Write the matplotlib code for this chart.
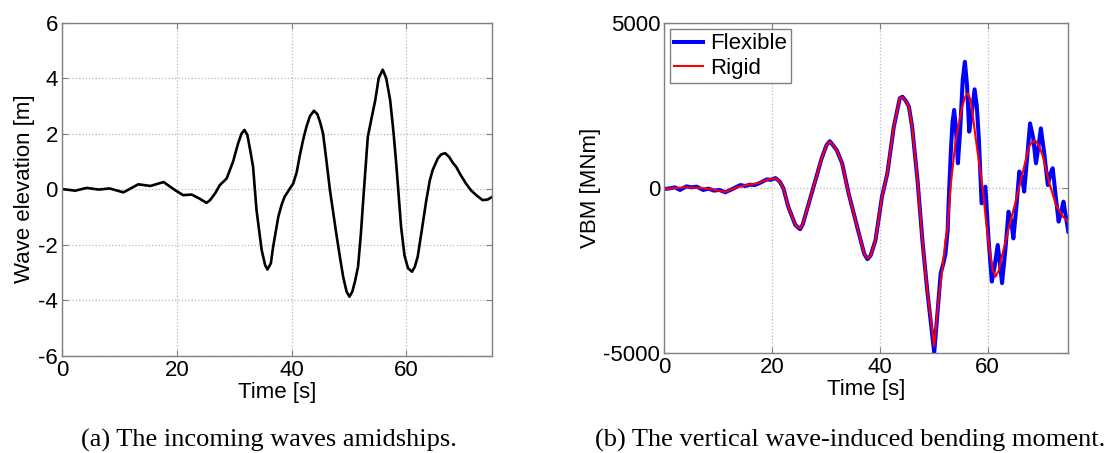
import matplotlib
matplotlib.use("Agg")
from matplotlib import pyplot as plt

# wave elevation amidships [m]
wave_t = [0, 2.3, 4.3, 6.4, 8.3, 10.7, 13.3, 15.4, 17.7, 19.7, 21.1, 22.6, 24.0, 25.2,
          25.8, 26.7, 27.5, 28.7, 29.8, 30.7, 31.3, 31.8, 32.3, 32.8, 33.3, 33.9, 34.8,
          35.4, 35.8, 36.4, 36.8, 37.7, 38.3, 38.8, 39.5, 40.3, 40.9, 41.4, 42.0, 42.6,
          43.2, 43.9, 44.5, 45.0, 45.5, 46.1, 46.7, 47.8, 48.4, 49.0, 49.6, 50.1, 50.6,
          51.1, 51.6, 52.1, 52.5, 53.3, 54.0, 54.6, 55.2, 55.9, 56.5, 57.2, 57.8, 58.3,
          59.1, 59.7, 60.3, 61.0, 61.5, 62.0, 62.7, 63.5, 64.1, 64.6, 65.5, 66.1, 66.8,
          67.5, 68.1, 68.7, 69.5, 70.4, 71.3, 72.2, 73.3, 74.2, 75.0]
wave_eta = [0, -0.06, 0.04, -0.02, 0.02, -0.12, 0.17, 0.11, 0.25, -0.04, -0.22, -0.2,
            -0.35, -0.5, -0.4, -0.15, 0.14, 0.38, 0.98, 1.65, 2.0, 2.13, 1.95, 1.4, 0.8,
            -0.76, -2.2, -2.74, -2.9, -2.68, -2.08, -1.0, -0.55, -0.28, -0.05, 0.2, 0.6,
            1.16, 1.75, 2.24, 2.62, 2.82, 2.7, 2.4, 2.0, 1.0, -0.04, -1.6, -2.4, -3.16,
            -3.7, -3.88, -3.7, -3.3, -2.8, -1.6, -0.4, 1.88, 2.6, 3.2, 4.0, 4.3, 4.0, 3.2,
            2.0, 0.8, -1.36, -2.4, -2.85, -2.98, -2.8, -2.44, -1.5, -0.4, 0.3, 0.68, 1.1,
            1.25, 1.29, 1.15, 0.95, 0.8, 0.5, 0.2, -0.05, -0.22, -0.4, -0.38, -0.28]

# vertical bending moment [MNm], rigid hull
rigid_t = [0, 2, 4, 6, 8, 10, 11.3, 13, 15, 17.5, 19, 20.6, 21.4, 22.1, 23.0, 24.3, 24.8,
           25.2, 25.7, 26.4, 27.7, 29.2, 30.1, 30.7, 31.3, 32.0, 33.0, 34.2, 36.1, 37.1,
           37.7, 38.3, 39.2, 40.4, 41.4, 42.6, 43.7, 44.2, 44.8, 45.4, 46.0, 47.0, 47.9,
           48.8, 50.1, 50.9, 51.6, 52.2, 52.6, 53.2, 54.1, 55.3, 55.8, 56.3, 56.8, 57.2,
           58.1, 59.1, 59.7, 60.3, 61.0, 61.5, 62.1, 62.8, 64.0, 65.3, 66.5, 67.7, 68.3,
           68.9, 69.5, 70.2, 71.5, 72.7, 74.0, 75.0]
rigid_vbm = [-30, 0, 20, 10, -20, -80, -120, 0, 80, 150, 250, 290, 200, -10, -570, -1120,
             -1200, -1225, -1100, -700, 40, 900, 1300, 1405, 1300, 1150, 750, -160, -1375,
             -2000, -2135, -2050, -1580, -265, 445, 1860, 2720, 2750, 2650, 2470, 1860, 240,
             -1580, -3100, -4800, -3400, -2490, -1580, -1175, 140, 1460, 2470, 2750, 2875,
             2700, 2270, 1150, 0, -970, -1780, -2500, -2690, -2500, -1980, -1175, -365, 445,
             1250, 1400, 1435, 1300, 1000, 140, -515, -870, -1020]

# vertical bending moment [MNm], flexible hull
flex_t = [0, 1.0, 1.96, 2.9, 4.1, 5.0, 6.0, 7.2, 8.2, 9.2, 10.2, 11.3, 12.5, 14.1, 15.0,
          15.9, 16.8, 17.8, 19.0, 19.8, 20.6, 21.4, 22.1, 23.0, 24.3, 24.8, 25.2, 25.7,
          26.4, 27.7, 29.2, 30.1, 30.7, 31.3, 32.0, 33.0, 34.2, 36.1, 37.1, 37.7, 38.3,
          39.2, 40.4, 41.4, 42.6, 43.7, 44.2, 44.8, 45.4, 46.0, 47.0, 47.9, 48.8, 50.1,
          50.9, 51.3, 51.8, 52.2, 52.6, 52.8, 53.2, 53.5, 53.8, 54.1, 54.5, 54.9, 55.4,
          55.8, 56.2, 56.6, 57.1, 57.6, 58.0, 58.4, 58.9, 59.6, 60.2, 60.8, 61.3, 61.9,
          62.3, 62.7, 63.3, 63.9, 64.4, 64.8, 65.4, 65.9, 66.4, 66.8, 67.4, 67.9, 68.5,
          69.0, 69.5, 69.9, 70.5, 71.2, 71.7, 72.1, 72.7, 73.2, 73.7, 74.1, 75.0]
flex_vbm = [-30, -10, 20, -60, 50, 20, 40, -60, -20, -80, -60, -130, -40, 90, 60, 100, 90,
            160, 260, 250, 300, 200, -10, -570, -1120, -1200, -1250, -1100, -700, 40, 900,
            1300, 1420, 1300, 1150, 750, -160, -1375, -2000, -2160, -2050, -1580, -265, 445,
            1860, 2720, 2770, 2650, 2470, 1860, 240, -1580, -3100, -5000, -3400, -2590,
            -2290, -1980, -1275, -365, 1150, 2000, 2370, 1900, 750, 1700, 3300, 3830, 3100,
            1710, 2300, 2995, 2500, 1460, -465, 40, -1580, -2840, -2400, -1730, -2300,
            -2890, -1900, -720, -1000, -1530, -500, 500, 350, -110, 1000, 1960, 1500, 750,
            1300, 1810, 1100, 90, 450, 600, -300, -1020, -700, -415, -1325]

captions = ["(a) The incoming waves amidships.", "(b) The vertical wave-induced bending moment."]

plt.rcParams["font.family"] = ["Liberation Sans", "DejaVu Sans"]
plt.rcParams["font.size"] = 16
plt.rcParams["axes.unicode_minus"] = False

AX_GRAY = "#808080"


def matlab_style(ax):
    for sp in ax.spines.values():
        sp.set_color(AX_GRAY)
        sp.set_linewidth(1.0)
    ax.tick_params(direction="in", length=4, width=0.8, color=AX_GRAY, top=True,
                   right=True, labelsize=16, pad=3)
    ax.grid(True, linestyle=":", color="#b8b8b8", linewidth=0.9)
    ax.set_axisbelow(True)


fig = plt.figure(figsize=(11.12, 4.53), dpi=100)

ax1 = fig.add_axes([0.0558, 0.2152, 0.3869, 0.7351])
ax1.plot(wave_t, wave_eta, color="black", linewidth=1.9)
ax1.set_xlim(0, 75)
ax1.set_ylim(-6, 6)
ax1.set_xticks([0, 20, 40, 60])
ax1.set_yticks([-6, -4, -2, 0, 2, 4, 6])
ax1.set_xlabel("Time [s]", labelpad=1)
ax1.set_ylabel("Wave elevation [m]", labelpad=2)
matlab_style(ax1)

ax2 = fig.add_axes([0.5975, 0.2214, 0.3632, 0.7272])
ax2.plot(flex_t, flex_vbm, color="#0000ff", linewidth=2.9, label="Flexible")
ax2.plot(rigid_t, rigid_vbm, color="#ff0000", linewidth=1.5, label="Rigid")
ax2.set_xlim(0, 75)
ax2.set_ylim(-5000, 5000)
ax2.set_xticks([0, 20, 40, 60])
ax2.set_yticks([-5000, 0, 5000])
ax2.set_xlabel("Time [s]", labelpad=1)
ax2.set_ylabel("VBM [MNm]", labelpad=2)
matlab_style(ax2)
leg = ax2.legend(loc="upper left", handlelength=1.3, handletextpad=0.3,
                 borderaxespad=0.25, borderpad=0.2, labelspacing=0.15,
                 fancybox=False, framealpha=1, fontsize=16)
leg.get_frame().set_edgecolor(AX_GRAY)
leg.get_frame().set_linewidth(1.0)

fig.text(269 / 1112, 1 - 440 / 453, captions[0], ha="center", va="center",
         family="Liberation Serif", fontsize=19)
fig.text(850 / 1112, 1 - 440 / 453, captions[1], ha="center", va="center",
         family="Liberation Serif", fontsize=19)

fig.savefig("out.png", dpi=100)
